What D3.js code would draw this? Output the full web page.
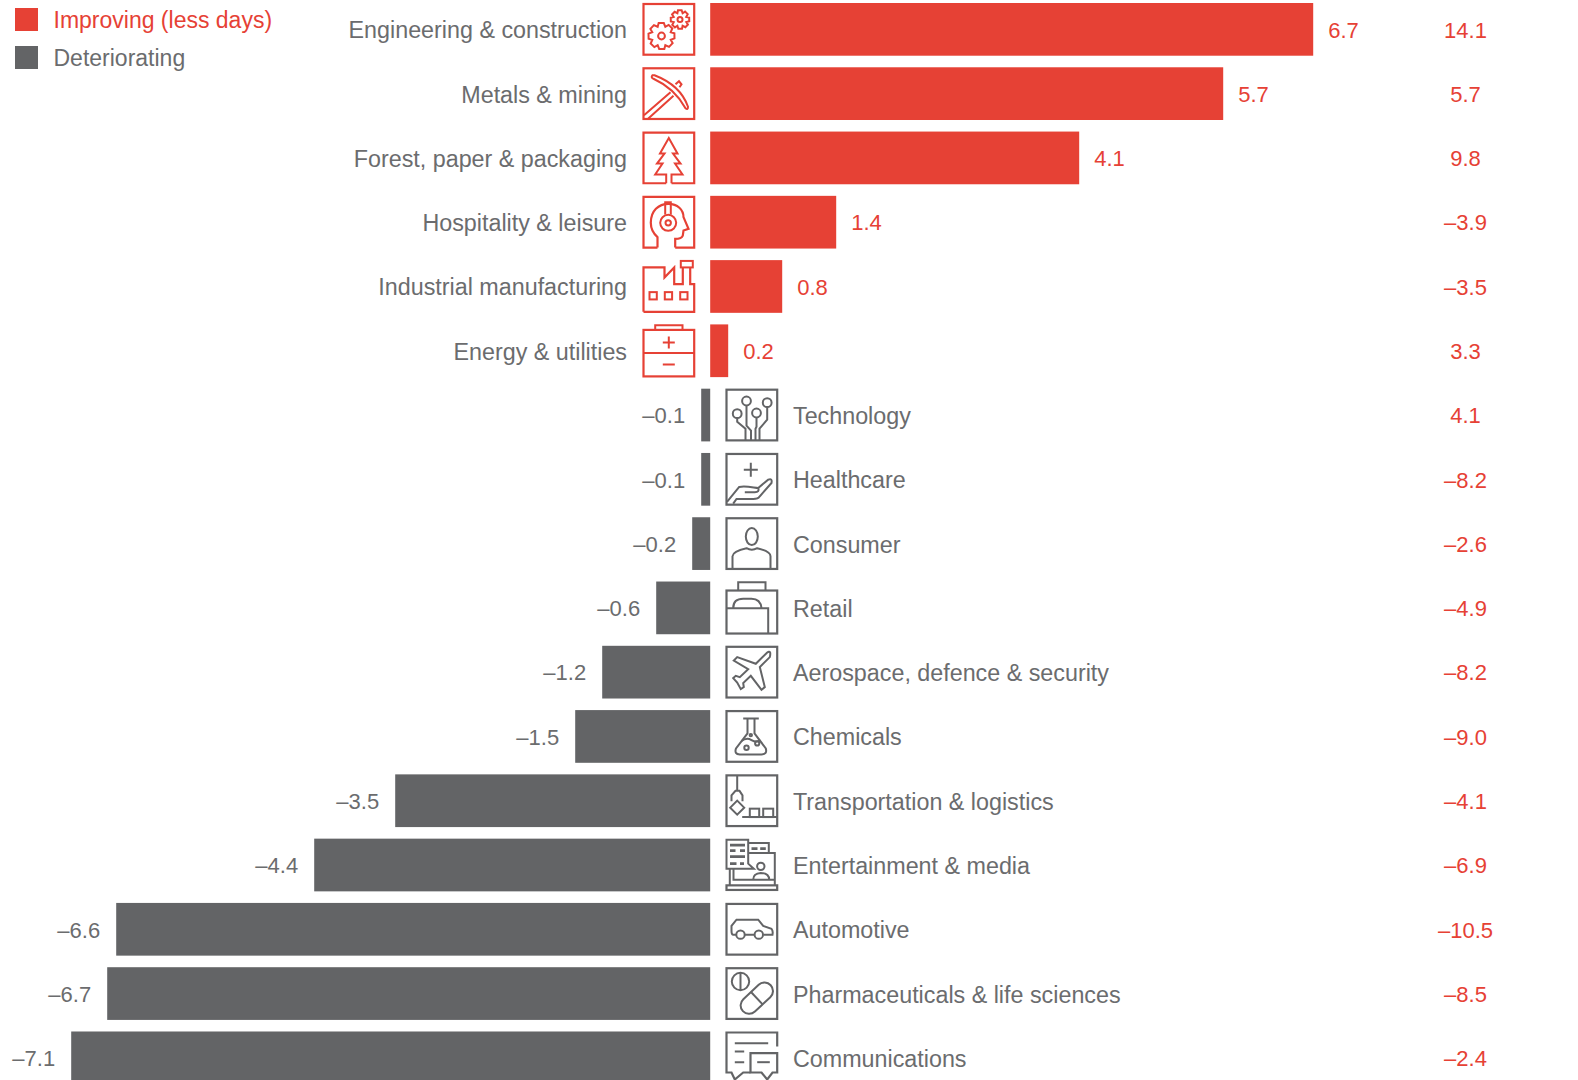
<!DOCTYPE html>
<html>
<head>
<meta charset="utf-8">
<script src="https://cdn.jsdelivr.net/npm/d3@7/dist/d3.min.js"></script>
<style>
  html, body { margin: 0; padding: 0; background: #fff; overflow: hidden; }
  svg { display: block; font-family: "Liberation Sans", Arial, sans-serif; }
  .icon * { fill: none; stroke: currentColor; stroke-width: 2; stroke-linejoin: miter; }
  .icon .frame { stroke-width: 2.2; }
</style>
</head>
<body>
<svg id="chart" width="1578" height="1080"></svg>
<script>
// Change in days per sector, best to worst
const categories = [
  "Engineering & construction", "Metals & mining", "Forest, paper & packaging",
  "Hospitality & leisure", "Industrial manufacturing", "Energy & utilities",
  "Technology", "Healthcare", "Consumer", "Retail", "Aerospace, defence & security",
  "Chemicals", "Transportation & logistics", "Entertainment & media", "Automotive",
  "Pharmaceuticals & life sciences", "Communications"
];
const barValues = [6.7, 5.7, 4.1, 1.4, 0.8, 0.2, -0.1, -0.1, -0.2, -0.6, -1.2, -1.5, -3.5, -4.4, -6.6, -6.7, -7.1];
const sideValues = [14.1, 5.7, 9.8, -3.9, -3.5, 3.3, 4.1, -8.2, -2.6, -4.9, -8.2, -9.0, -4.1, -6.9, -10.5, -8.5, -2.4];
const legendItems = ["Improving (less days)", "Deteriorating"];

const RED = "#e64135";
const GREY = "#636466";
const TEXT_GREY = "#6b6c6e";
const NAME_SIZE = 23.3;
const VALUE_SIZE = 22;
const LEGEND_SIZE = 23;

const fmt = v => (v < 0 ? "\u2013" : "") + Math.abs(v).toFixed(1);

// Cog outline used by the engineering icon
function gear(cx, cy, r, R, teeth) {
  const pts = [];
  d3.range(teeth).forEach(i => {
    const a = i * 2 * Math.PI / teeth, w = Math.PI / teeth;
    [[r, -w], [R, -w * 0.55], [R, w * 0.45], [r, w]].forEach(([q, da]) =>
      pts.push([cx + q * Math.cos(a + da), cy + q * Math.sin(a + da)]));
  });
  return `<path d="${d3.line()(pts)}Z"/>`;
}
const box = '<rect class="frame" x="1" y="1" width="50.7" height="50.7"/>';

// Pictograms in a 52.7-unit square
const icons = {
  "Engineering & construction": box + gear(19, 33, 10, 13.2, 8) + '<circle cx="19" cy="33" r="3.4"/>' +
    gear(37.5, 16.5, 6.8, 9.4, 8) + '<circle cx="37.5" cy="16.5" r="2.5"/>',
  "Metals & mining": box +
    '<path d="M10,8 Q8,10 11,11.5 Q32,21 43,41 Q45.5,43 45.5,39.5 Q38,18 12,8 Z"/>' +
    '<path d="M33,17 L36.5,14 L39,17 L37,20"/>' +
    '<path d="M28,25 L1.5,48 M31,28.5 L5,52"/>',
  "Forest, paper & packaging":
    '<path class="frame" d="M23.7,51.7 H1 V1 H51.7 V51.7 H29"/>' +
    '<path d="M23.7,51.7 V43 H12.7 L20,32 H14.5 L22,22 H17.5 L26.3,6.5 L35,22 H30.5 L38,32 H32.5 L40,43 H29 V51.7"/>',
  "Hospitality & leisure":
    '<path class="frame" d="M15,51.7 H1 V1 H51.7 V51.7 H32.7"/>' +
    '<path class="frame" d="M15,51.7 V41.3 C10,37 8.3,33 8.3,27 C8.3,15 16,8 26,8 C35,8 41,14 41,21.3 L46,33 L41,34.7 L40.3,39.7 Q39,43 32.7,43 V51.7"/>' +
    '<path d="M22.7,18.7 V6.3 H28.3 V18.7"/><circle cx="25.7" cy="27" r="8"/><circle cx="25.7" cy="27" r="2.7"/>',
  "Industrial manufacturing":
    '<path class="frame" d="M1,51.7 V7.3 H22 V17.3 L31.7,7.3 V24 H40.3 V7.3 M47.7,7.3 V24 H51.7 V51.7 H1"/>' +
    '<rect x="38.3" y="0.8" width="12" height="6.5"/>' +
    '<rect x="7" y="32" width="7.3" height="7.3"/><rect x="22.3" y="32" width="7.3" height="7.3"/><rect x="37.7" y="32" width="7.3" height="7.3"/>',
  "Energy & utilities":
    '<rect class="frame" x="1" y="5.5" width="50.7" height="46.5"/>' +
    '<path d="M12.7,5.5 V0.8 H40 V5.5 M1,28.7 H51.7 M20.3,18 H32.3 M26.3,12 V24 M20.3,40 H32.3"/>',
  "Technology": box +
    '<circle cx="11.7" cy="25" r="4.4"/><circle cx="21" cy="12.3" r="4.4"/><circle cx="31" cy="24.3" r="4.4"/><circle cx="41.7" cy="14" r="4.4"/>' +
    '<path d="M11.7,29.4 V33 L20,40 V51.7 M21,16.7 V37 L25.5,42 V51.7 M31,28.7 V38 L30,40 V51.7 M41.7,18.4 V31 L34,40 V51.7"/>',
  "Healthcare": box +
    '<path d="M18.3,16.7 H32.3 M25.3,9.7 V23.7"/>' +
    '<path d="M1.5,49 L13.7,34 C21,32.7 29.3,35 32.7,35 L42.7,26.7 Q47,25 46,30 L34.3,43.3 Q32.7,46 27.7,46 L11,46 L7.7,50.7"/>' +
    '<path d="M19.3,39.3 H29.3 Q34.3,39.3 32.7,35"/>',
  "Consumer": box +
    '<ellipse cx="26.3" cy="19.3" rx="6" ry="8.5"/>' +
    '<path d="M7,51.7 V39 Q7.3,34 21,31 Q26.3,34 31.7,31 Q45,34 45,39 V51.7"/>',
  "Retail":
    '<rect class="frame" x="1" y="9" width="50.7" height="43"/>' +
    '<path d="M12.7,9 V0.8 H40 V9 M1,26.7 H42.7 V52 M7.7,26.7 Q7.7,17.3 17.7,17.3 H26 Q35,17.3 36,26.7"/>',
  "Aerospace, defence & security": box +
    '<path d="M41.7,6.7 Q46,3.7 44.3,11.3 L34.3,21.3 L39.3,41.3 L36,44 L25.3,30 L17.7,37.3 L18.3,41.3 L15.3,43.3 L11.7,36.7 L7.7,32.3 L10.3,30 L14.3,31.3 L22.7,23.3 L8.3,14.7 L11.7,11.3 L30.3,18 Z"/>',
  "Chemicals": box +
    '<path d="M17.7,8.3 H33.3 M22,8.3 V23.3 L10.5,38.3 Q8.5,44.3 14.3,44.3 H36 Q42,44.3 40.3,38.3 L29,23.3 V8.3"/>' +
    '<path d="M16,31 Q21,27 26,30 T35,30"/>' +
    '<circle cx="21" cy="37.7" r="2.2"/><circle cx="31.7" cy="33.3" r="2.1"/><circle cx="25.3" cy="25" r="1.2"/>',
  "Transportation & logistics": box +
    '<path d="M11.7,1 V16 M6,27 V21 L10,16.5 H14 L17,21 V27 M16.7,42.7 H51.7"/>' +
    '<path d="M11.7,26.3 L18.7,33.3 L11.7,40.3 L4.7,33.3 Z"/>' +
    '<rect x="24.3" y="34.3" width="9.4" height="8.4"/><rect x="37.7" y="34.3" width="10" height="8.4"/>',
  "Entertainment & media":
    '<path d="M1,1 H22.7 V25 L28.3,30 H1 Z"/>' +
    '<path d="M22.7,4.3 H43.3 V14.3 M22.7,14.3 H49.3 V46.7 M4.3,30 V46.7 M8,30 V41 H49.3"/>' +
    '<rect class="frame" x="1" y="46.7" width="50.7" height="4.6"/>' +
    '<path style="stroke-width:2.6" d="M4.5,6.5 H19.5 M4.5,12 H10 M14.5,12 H19.5 M4.5,18 H19.5 M4.5,25 H11 M14.5,25 H18.5 M26,10 H32 M34.7,10 H40.3"/>' +
    '<circle cx="35.3" cy="27.7" r="3.7"/><path d="M27.7,41 Q27.7,34.7 35.3,34.3 Q43.7,34.7 43.7,41"/>',
  "Automotive": box +
    '<path d="M10.5,31.7 H7.7 Q6,31.7 6,28 V23 L11,16.7 H32.7 L37.7,23 L46,26 Q47.7,28 47,31.7 H38 M19.3,31.7 H29"/>' +
    '<circle cx="15" cy="31.7" r="4.2"/><circle cx="33.3" cy="31.7" r="4.2"/>',
  "Pharmaceuticals & life sciences": box +
    '<circle cx="15" cy="14.3" r="8.7"/><path d="M15,5.6 V23"/>' +
    '<g transform="translate(31.3,31) rotate(-43)"><rect x="-19" y="-8.5" width="38" height="17" rx="8.5"/><path d="M0,-8.5 V8.5"/></g>',
  "Communications":
    '<path class="frame" d="M51.7,15 V1 H1 V41 H6 L9.3,48 L17.7,41 H25"/>' +
    '<path d="M9.3,11.7 H42.7 M9.3,20 H18.7 M9.3,30.7 H18.7"/>' +
    '<path class="frame" d="M25,21.7 H51.7 V41 H47 L41.7,48 L36,41 H25 Z"/>' +
    '<path d="M31.7,30.7 H44.3"/>'
};

const svg = d3.select("#chart");

const rows = categories.map((name, i) => ({ name, value: barValues[i], side: sideValues[i] }));

const x = d3.scaleLinear().domain([0, 1]).range([710.2, 800.2]);
const y = d3.scaleBand().domain(categories).range([3, 1084.2]).paddingInner(0.18).paddingOuter(0);
const sideX = 1465.5;
const valueDy = 8.3;
const nameDy = 9;

// Bars
svg.append("g").selectAll("rect").data(rows).join("rect")
  .attr("x", d => Math.min(x(d.value), x(0)))
  .attr("y", d => y(d.name))
  .attr("width", d => Math.abs(x(d.value) - x(0)))
  .attr("height", y.bandwidth())
  .attr("fill", d => d.value >= 0 ? RED : GREY);

const mid = d => y(d.name) + y.bandwidth() / 2;

// Value at the end of each bar
svg.append("g").attr("font-size", VALUE_SIZE).selectAll("text").data(rows).join("text")
  .attr("x", d => x(d.value) + (d.value >= 0 ? 15 : -16))
  .attr("y", d => mid(d) + valueDy)
  .attr("text-anchor", d => d.value >= 0 ? "start" : "end")
  .attr("fill", d => d.value >= 0 ? RED : TEXT_GREY)
  .text(d => fmt(d.value));

// Sector names sit on the side of the axis away from the bar
svg.append("g").attr("font-size", NAME_SIZE).selectAll("text").data(rows).join("text")
  .attr("x", d => d.value >= 0 ? 627 : 793)
  .attr("y", d => mid(d) + nameDy)
  .attr("text-anchor", d => d.value >= 0 ? "end" : "start")
  .attr("fill", TEXT_GREY)
  .text(d => d.name);

// Right-hand column
svg.append("g").attr("font-size", VALUE_SIZE).selectAll("text").data(rows).join("text")
  .attr("x", sideX)
  .attr("y", d => mid(d) + valueDy)
  .attr("text-anchor", "middle")
  .attr("fill", RED)
  .text(d => fmt(d.side));

// Sector pictograms
svg.append("g").selectAll("g").data(rows).join("g")
  .attr("class", "icon")
  .attr("transform", d => `translate(${d.value >= 0 ? 642.5 : 725.5},${y(d.name)})`)
  .style("color", d => d.value >= 0 ? RED : GREY)
  .html(d => icons[d.name]);

// Legend
const legend = svg.append("g").selectAll("g").data(legendItems).join("g")
  .attr("transform", (d, i) => `translate(15,${8 + i * 38})`);
legend.append("rect").attr("width", 23).attr("height", 23).attr("fill", (d, i) => i ? GREY : RED);
legend.append("text").attr("x", 38.5).attr("y", 19.5).attr("font-size", LEGEND_SIZE)
  .attr("fill", (d, i) => i ? TEXT_GREY : RED).text(d => d);
</script>
</body>
</html>
